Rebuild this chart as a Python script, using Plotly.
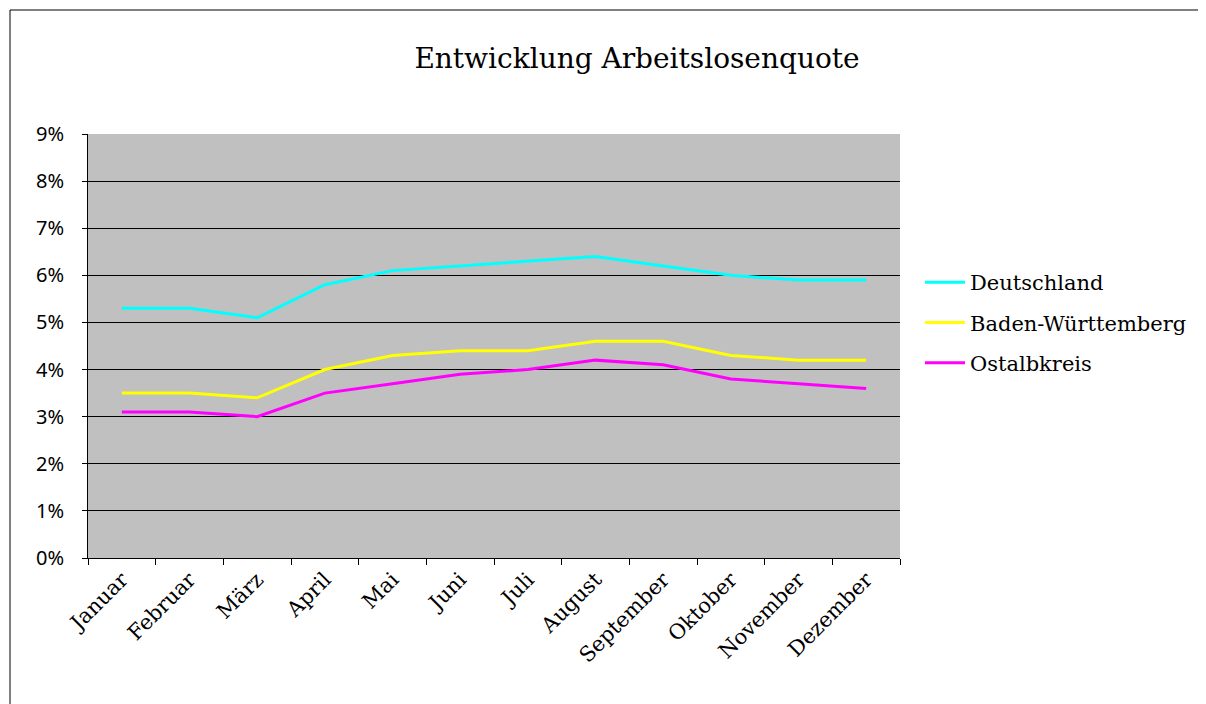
import plotly.graph_objects as go

months = ["Januar", "Februar", "März", "April", "Mai", "Juni", "Juli",
          "August", "September", "Oktober", "November", "Dezember"]
deutschland = [5.3, 5.3, 5.1, 5.8, 6.1, 6.2, 6.3, 6.4, 6.2, 6.0, 5.9, 5.9]
baden_wuerttemberg = [3.5, 3.5, 3.4, 4.0, 4.3, 4.4, 4.4, 4.6, 4.6, 4.3, 4.2, 4.2]
ostalbkreis = [3.1, 3.1, 3.0, 3.5, 3.7, 3.9, 4.0, 4.2, 4.1, 3.8, 3.7, 3.6]
y_ticks = [0, 1, 2, 3, 4, 5, 6, 7, 8, 9]
y_labels = [f"{v}%" for v in y_ticks]

series = [
    ("Deutschland", deutschland, "#00FFFF"),
    ("Baden-Württemberg", baden_wuerttemberg, "#FFFF00"),
    ("Ostalbkreis", ostalbkreis, "#FF00FF"),
]

serif = "DejaVu Serif"
sans = "Noto Sans"

fig = go.Figure()
for i, (name, vals, col) in enumerate(series):
    fig.add_trace(go.Scatter(
        x=months, y=vals, name=name, mode="lines",
        line=dict(color=col, width=3), legendgroup=f"g{i}",
    ))

OFF = 8  # page offset
W, H = 1206 - OFF, 704 - OFF
L, T = 88 - OFF, 134 - OFF
R = W - (900 - OFF)
B = H - (558 - OFF)
pw, ph = W - L - R, H - T - B

fig.update_layout(
    width=W, height=H,
    margin=dict(l=L, r=R, t=T, b=B),
    paper_bgcolor="white",
    plot_bgcolor="#C0C0C0",
    title=dict(text="Entwicklung Arbeitslosenquote", x=(637 - OFF) / W, xanchor="center",
               y=1 - (58 - OFF) / H, yanchor="middle",
               font=dict(family=serif, size=28, color="black")),
    showlegend=True,
    legend=dict(x=(920 - OFF - L) / pw, xanchor="left", y=(558 - 262) / ph, yanchor="top",
                font=dict(family=serif, size=21, color="black"),
                traceorder="grouped", tracegroupgap=10,
                bgcolor="rgba(0,0,0,0)", itemwidth=40),
    xaxis=dict(
        type="category", range=[-0.5, 11.5], tickson="boundaries",
        ticks="outside", ticklen=6, tickcolor="black", tickwidth=1,
        showline=True, linecolor="black", linewidth=1,
        showgrid=False, tickangle=-45,
        tickfont=dict(family=serif, size=21, color="black"),
    ),
    yaxis=dict(
        range=[0, 9], tickvals=y_ticks, ticktext=y_labels,
        ticks="outside", ticklen=5, tickcolor="black", tickwidth=1,
        showline=True, linecolor="black", linewidth=1,
        showgrid=True, gridcolor="black", gridwidth=1,
        zeroline=False, ticklabelstandoff=14,
        tickfont=dict(family=sans, size=20, color="black"),
    ),
)

# outer chart border (left and top edges visible)
bx = (10 - OFF - L) / pw
by = (T + ph - (10 - OFF)) / ph
fig.add_shape(type="line", xref="paper", yref="paper",
              x0=bx, x1=bx, y0=-B / ph - 0.05, y1=by,
              line=dict(color="black", width=1), layer="below")
fig.add_shape(type="line", xref="paper", yref="paper",
              x0=bx, x1=(W + 10 - L) / pw, y0=by, y1=by,
              line=dict(color="black", width=1), layer="below")

fig.write_html("out.html")
